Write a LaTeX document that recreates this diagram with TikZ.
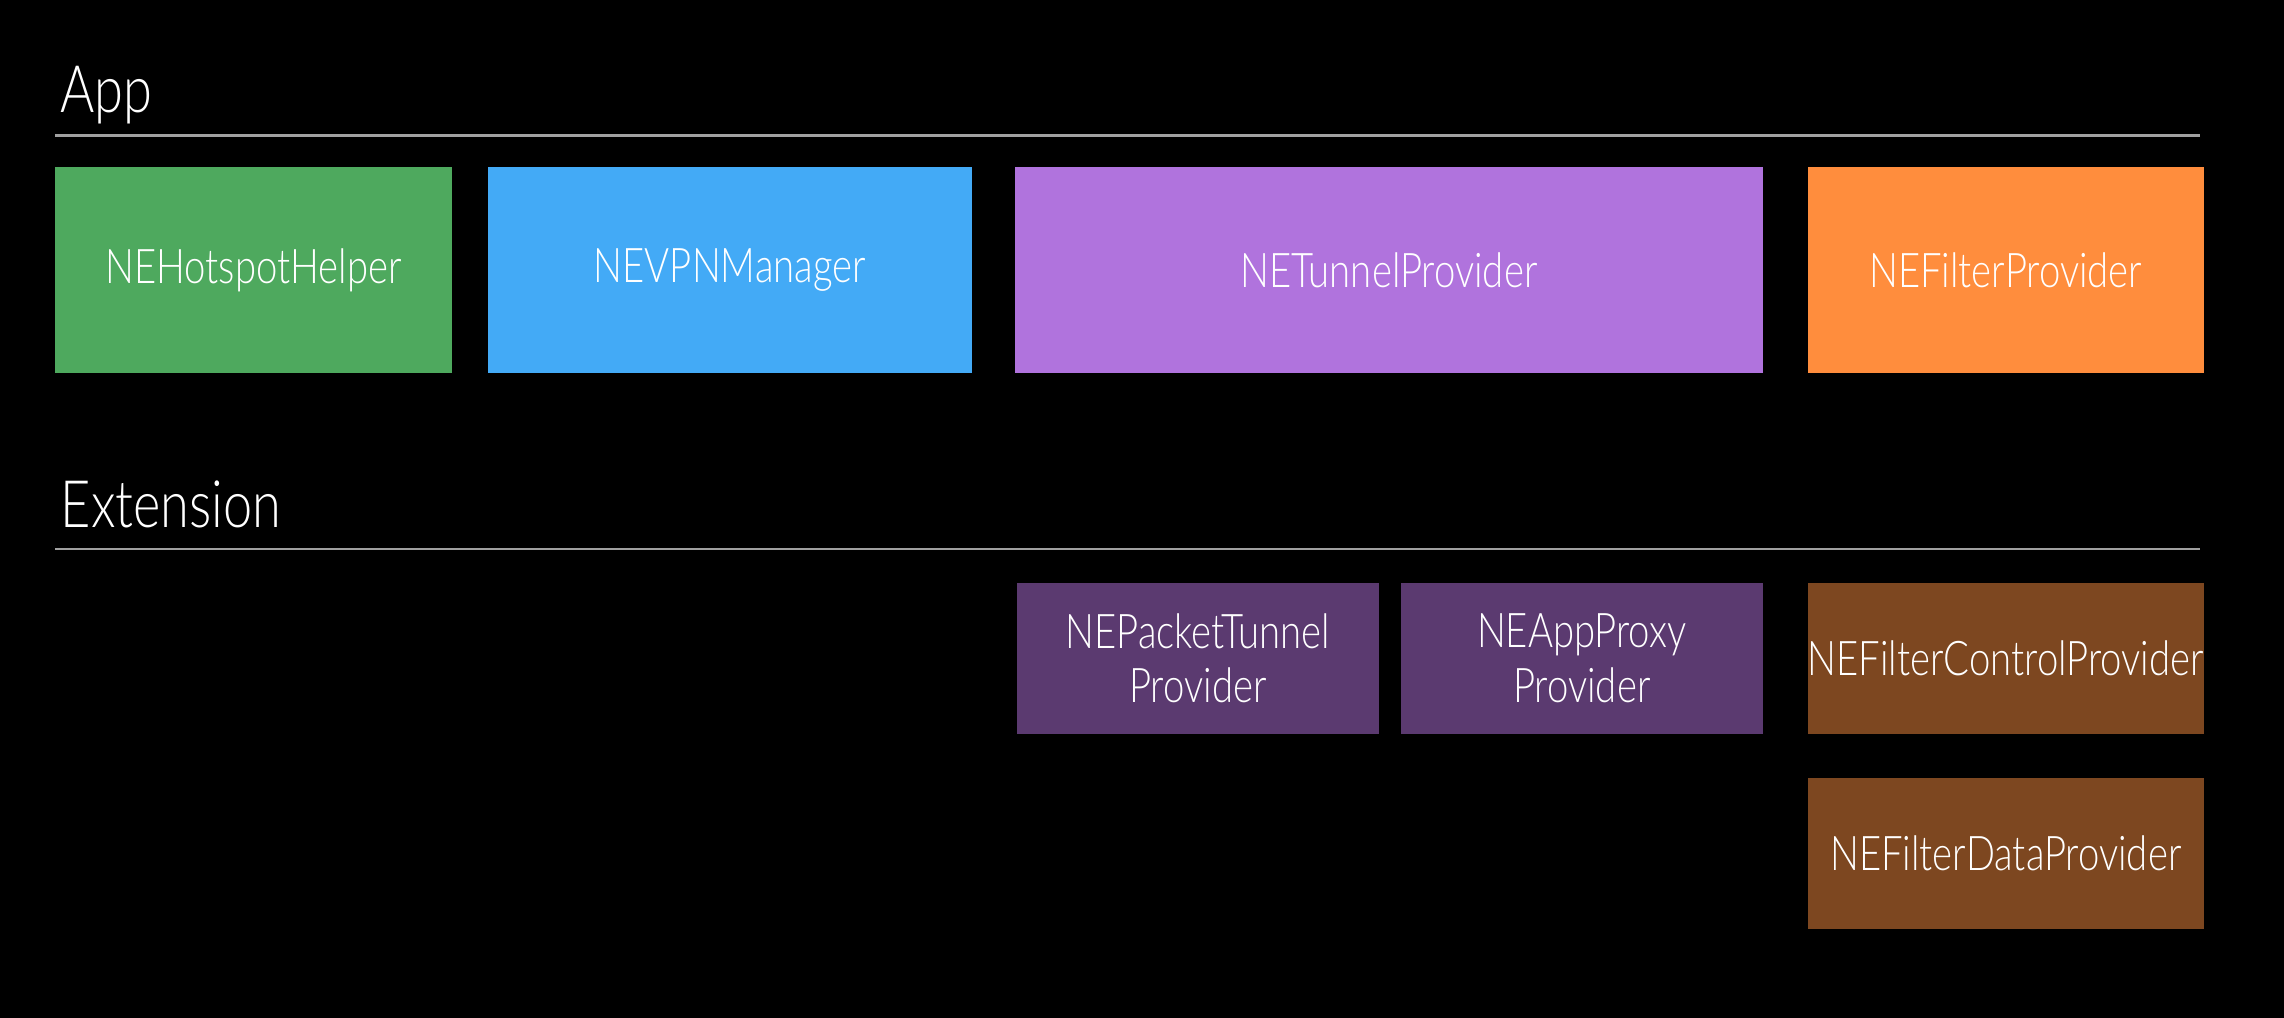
\documentclass[tikz,border=0pt]{standalone}
\usepackage{fontspec}
\setmainfont[FakeStretch=0.8]{Lato Light}
\definecolor{bgc}{HTML}{000000}
\definecolor{rulec}{HTML}{A0A0A0}
\definecolor{greenc}{HTML}{4EA95E}
\definecolor{bluec}{HTML}{43AAF6}
\definecolor{purplec}{HTML}{B073DD}
\definecolor{orangec}{HTML}{FF8D3D}
\definecolor{dpurplec}{HTML}{5B3A70}
\definecolor{brownc}{HTML}{7D4720}
\tikzset{
  box/.style={rectangle, inner sep=0pt, text=white, align=center,
    font=\fontsize{13.6pt}{15.6pt}\selectfont},
  heading/.style={anchor=base west, inner sep=0pt, text=white,
    font=\fontsize{18.6pt}{22pt}\selectfont},
  sep/.style={draw=rulec, line width=0.025cm}
}
\begin{document}
\begin{tikzpicture}[x=0.01cm, y=-0.01cm]
\fill[bgc] (0,0) rectangle (2284,1018);
\useasboundingbox (0,0) rectangle (2284,1018);
% headings
\node[heading] (app) at (60,113) {App};
\coordinate (l1a) at (55,135.5);
\coordinate (l1b) at (2200,135.5);
\draw[sep] (l1a) -- (l1b);
\node[heading] (ext) at (60,527) {Extension};
\coordinate (l2a) at (55,549);
\coordinate (l2b) at (2200,549);
\draw[sep] (l2a) -- (l2b);
% app row
\node[box, fill=greenc, minimum width=3.96cm, minimum height=2.055cm] (hot) at (253.5,270.3) {NEHotspotHelper};
\node[box, fill=bluec, minimum width=4.836cm, minimum height=2.055cm] (vpn) at (729.8,270.3) {NEVPNManager};
\node[box, fill=purplec, minimum width=7.475cm, minimum height=2.055cm] (tun) at (1388.8,270.3) {NETunnelProvider};
\node[box, fill=orangec, minimum width=3.964cm, minimum height=2.055cm] (fil) at (2005.8,270.3) {NEFilterProvider};
% extension row
\node[box, fill=dpurplec, minimum width=3.623cm, minimum height=1.514cm] (pkt) at (1197.9,658.3) {NEPacketTunnel\\Provider};
\node[box, fill=dpurplec, minimum width=3.615cm, minimum height=1.514cm] (prx) at (1581.8,658.3) {NEAppProxy\\Provider};
\node[box, fill=brownc, minimum width=3.964cm, minimum height=1.514cm] (ctl) at (2005.8,658.3) {NEFilterControlProvider};
\node[box, fill=brownc, minimum width=3.964cm, minimum height=1.512cm] (dat) at (2005.8,853.4) {NEFilterDataProvider};
\end{tikzpicture}
\end{document}
